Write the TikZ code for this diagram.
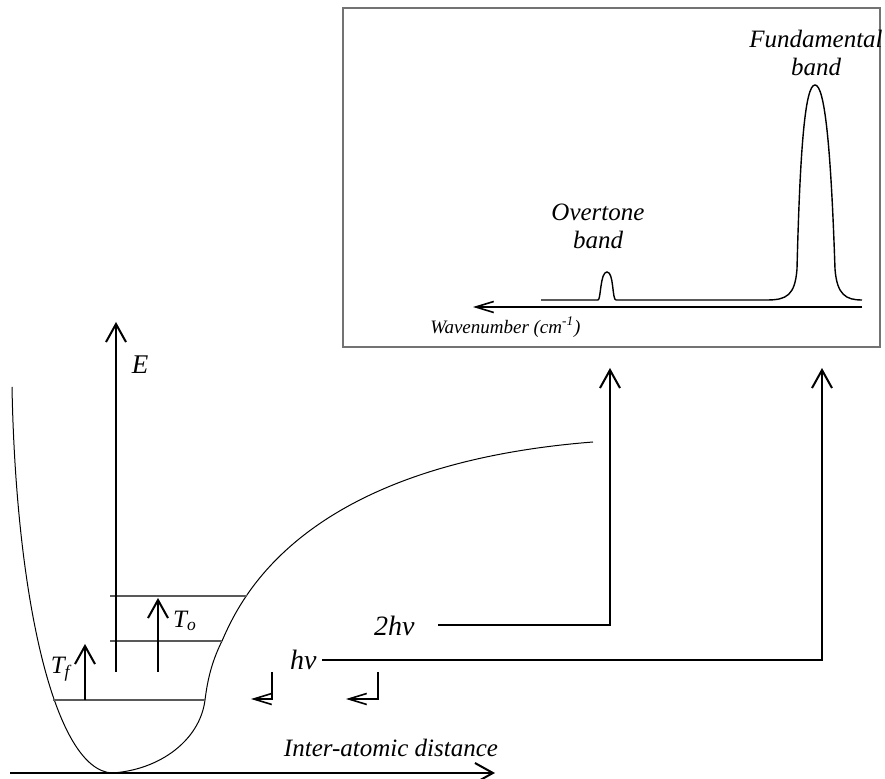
\documentclass[tikz,border=0pt]{standalone}
\usepackage{fontspec}
\setmainfont{Liberation Serif}
\usetikzlibrary{positioning, calc, arrows.meta}

\begin{document}
\begin{tikzpicture}[x=0.5pt, y=-0.5pt,
    lbl/.style={font=\itshape\fontsize{12.5}{14}\selectfont, inner sep=0pt},
    nulbl/.style={font=\itshape\fontsize{14}{16}\selectfont, inner sep=0pt},
    bigtip/.style={line width=1pt, -{Straight Barb[length=9pt,width=10pt]}},
    smalltip/.style={line width=0.8pt, -{Straight Barb[length=9pt,width=5.5pt]}},
    well/.style={line width=0.5pt},
    lvl/.style={line width=0.6pt, black!65}]
    \useasboundingbox (0,0) rectangle (885,779);

    % spectrum window
    \draw[black!55, line width=0.8pt] (343,8) rectangle (880,347);
    \coordinate (wr) at (862,307);
    \coordinate (wl) at (473,307);
    \draw[smalltip] (wr) -- (wl);
    \node[lbl, font=\itshape\fontsize{9.5}{11}\selectfont, anchor=west] (wn) at (430,327) {Wavenumber (cm\textsuperscript{-1})};
    \draw[line width=0.7pt] (541,300) -- (598,300)
        .. controls (601,300) and (600,272) .. (607,272)
        .. controls (614,272) and (612,300) .. (616,300) -- (767,300)
        .. controls (787,300) and (795,295) .. (797,269)
        .. controls (800,150) and (805,85) .. (815,85)
        .. controls (825,85) and (831,150) .. (835,269)
        .. controls (837,295) and (846,300) .. (862,300);
    \node[lbl, align=center] (ovt) at (598,226) {Overtone\\band};
    \node[lbl, align=center] (fun) at (816,53) {Fundamental\\band};

    % potential well
    \draw[well] (12,387) .. controls (16,600) and (55,770) .. (112,773)
        .. controls (160,770) and (200,740) .. (205,700)
        .. controls (207,685) and (210,665) .. (222,641)
        .. controls (240,600) and (300,465) .. (593,442);
    \draw[lvl] (53,700) -- (205,700);
    \draw[lvl] (110,641) -- (222,641);
    \draw[lvl] (110,596) -- (247,596);

    % axes
    \coordinate (o) at (10,773);
    \coordinate (r) at (495,773);
    \draw[bigtip] (o) -- (r);
    \node[lbl] (dist) at (391,748) {Inter-atomic distance};
    \coordinate (e0) at (116,672);
    \coordinate (e1) at (116,322);
    \draw[bigtip] (e0) -- (e1);
    \node[lbl, font=\itshape\fontsize{13.5}{15}\selectfont] (en) at (140,365) {E};

    % transitions
    \coordinate (f0) at (85,700);
    \coordinate (f1) at (85,644);
    \draw[bigtip] (f0) -- (f1);
    \node[lbl, anchor=east] (tf) at (71,669) {T\textsubscript{f}};
    \coordinate (v0) at (158,672);
    \coordinate (v1) at (158,598);
    \draw[bigtip] (v0) -- (v1);
    \node[lbl] (to) at (185,621) {T\textsubscript{o}};

    % photons
    \coordinate (p2) at (438,625);
    \coordinate (q2) at (610,368);
    \node[nulbl, anchor=base east] (nu2) at (415,636) {2hν};
    \draw[bigtip] (p2) -| (q2);
    \coordinate (p1) at (322,660);
    \coordinate (q1) at (822,368);
    \node[nulbl, anchor=base east] (nu1) at (317,670) {hν};
    \draw[bigtip] (p1) -| (q1);
    \coordinate (c1) at (272,672);
    \coordinate (d1) at (251,699);
    \draw[smalltip] (c1) |- (d1);
    \coordinate (c2) at (378,672);
    \coordinate (d2) at (346,699);
    \draw[smalltip] (c2) |- (d2);
\end{tikzpicture}
\end{document}
